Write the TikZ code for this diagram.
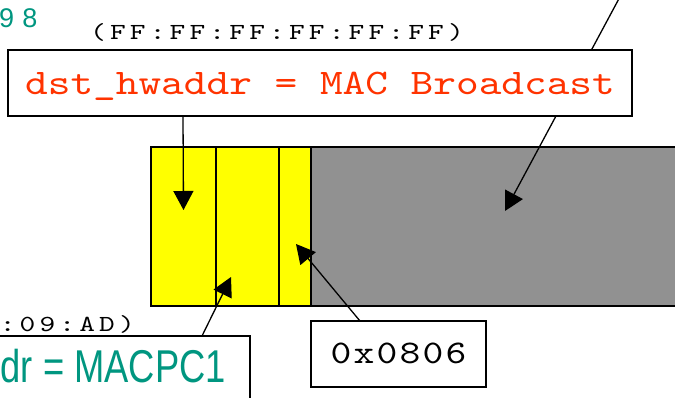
\documentclass[tikz,border=0pt]{standalone}
\usepackage{fontspec}
\usepackage{graphicx}
\setmainfont{Liberation Sans}
\setsansfont{Liberation Sans}
\newfontfamily\sansesp[LetterSpace=30]{Liberation Sans}
\newfontfamily\monoancho[LetterSpace=14]{lmmono10-regular.otf}
\newfontfamily\monomedio[LetterSpace=5.6]{lmmono10-regular.otf}
\newfontfamily\monofino{lmmono10-regular.otf}
\newcommand{\ancho}[2][1.2]{\scalebox{#1}[1]{#2}}
\usepackage{tikz}
\usetikzlibrary{positioning,arrows.meta,calc}
\definecolor{rojomac}{RGB}{255,51,0}
\definecolor{verdemac}{RGB}{0,150,128}
\definecolor{amarillo}{RGB}{255,255,0}
\definecolor{grismarco}{RGB}{145,145,145}

\begin{document}
\begin{tikzpicture}[x=1pt, y=-1pt,
  caja/.style={draw=black, line width=1.5pt, fill=white, inner sep=0pt,
    outer sep=0pt},
  campo/.style={draw=black, line width=1.5pt, fill=#1, inner sep=0pt,
    outer sep=0pt, minimum height=159pt},
  flecha/.style={-{Triangle[length=19pt,width=20pt]}, line width=1.3pt,
    draw=black}
]
\useasboundingbox (0,0) rectangle (675,398);
\clip (0,0) rectangle (675,398);
% Trama
\node[campo=amarillo, minimum width=65pt, anchor=north west] (f1) at (151,147) {};
\node[campo=amarillo, minimum width=63pt, right=0pt of f1] (f2) {};
\node[campo=amarillo, minimum width=32pt, right=0pt of f2] (f3) {};
\node[campo=grismarco, minimum width=380pt, right=0pt of f3] (datos) {};
% Flecha desde arriba
\coordinate (origen) at (629,-20);
\draw[flecha] (origen) -- ($(datos.west)+(194,-15.5)$);
% Destino
\node[text=verdemac, font=\sansesp\fontsize{27}{29}\selectfont,
  anchor=base west, inner sep=0pt] (ip) at (-1,28) {98};
\node[font=\monoancho\fontsize{23}{25}\selectfont, anchor=base,
  inner sep=0pt] (dstmac) at (277,40) {\ancho[1.3]{(FF:FF:FF:FF:FF:FF)}};
\node[caja, minimum width=624pt, minimum height=66pt, anchor=north west,
  text height=24pt, text depth=0pt, text=rojomac,
  font=\monofino\fontsize{36}{38}\selectfont] (dst) at (8,50)
  {\ancho[1.2]{dst\_hwaddr = MAC Broadcast}};
\draw[flecha] ($(dst.south west)+(175,0)$) -- ($(f1.center)+(0,-16.5)$);
% Origen
\node[caja, minimum width=275pt, minimum height=90pt, anchor=north east]
  (src) at (250,336) {};
\node[font=\monoancho\fontsize{23}{25}\selectfont, anchor=base east,
  inner sep=0pt] (srcmac) at (135,331) {\ancho[1.3]{:09:AD)}};
\node[text=verdemac, font=\sffamily\fontsize{46}{48}\selectfont,
  anchor=base east, inner sep=0pt] (srctxt) at (226,382)
  {\scalebox{0.79}[1]{dr = MACPC1}};
\draw[flecha] ($(src.north east)+(-48,0)$) -- ($(f2.center)+(-16.5,50.5)$);
% Tipo
\node[caja, minimum width=175pt, minimum height=66pt, anchor=north west,
  text height=18pt, text depth=0pt,
  font=\monomedio\fontsize{33}{35}\selectfont] (tipo) at (311,321)
  {\ancho{0x0806}};
\draw[flecha] ($(tipo.north west)+(49,0)$) -- ($(f3.center)+(1,17.5)$);
\end{tikzpicture}
\end{document}
